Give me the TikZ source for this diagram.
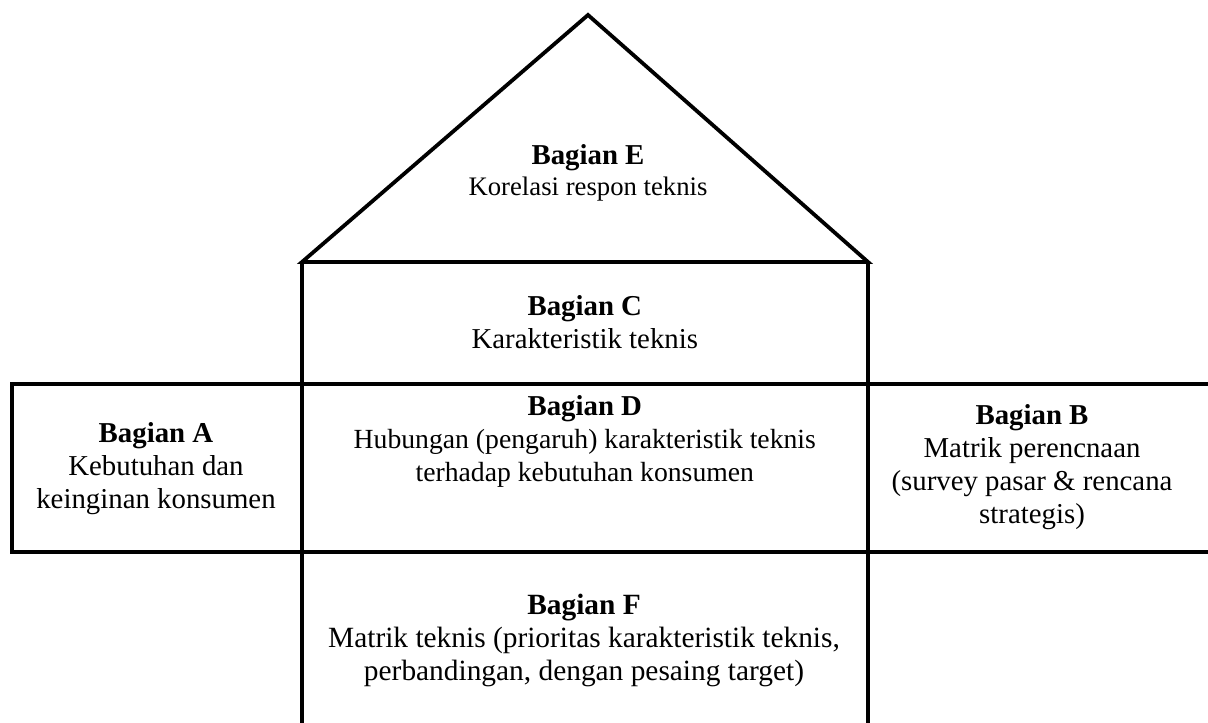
\documentclass[tikz,border=0pt]{standalone}
\usepackage{fontspec}
\setmainfont{Liberation Serif}
\usetikzlibrary{positioning}

\tikzset{
    wall/.style={line width=2.7pt},
    part/.style={align=center, font=\fontsize{20.5}{23.5}\selectfont},
}

\begin{document}
\begin{tikzpicture}
    \useasboundingbox (0,0) rectangle (30.2,18.075);

    % Roof and walls of the house
    \coordinate (apex) at (14.7,17.7);
    \coordinate (roofL) at (7.55,11.525);
    \coordinate (roofR) at (21.7,11.525);
    \coordinate (footL) at (7.55,-0.3);
    \coordinate (footR) at (21.7,-0.3);
    \draw[wall] (roofL) -- (apex) -- (roofR) -- cycle;
    \draw[wall] (roofL) -- (footL);
    \draw[wall] (roofR) -- (footR);

    % Side rooms
    \draw[wall] (0.3,4.275) rectangle (7.55,8.475);
    \draw[wall] (7.55,8.475) -- (30.5,8.475);
    \draw[wall] (7.55,4.275) -- (30.5,4.275);

    % Labels
    \node[part, font=\fontsize{19}{22.5}\selectfont] (partE) at (14.7,13.75) {\textbf{\fontsize{20.5}{23.5}\selectfont Bagian E}\\Korelasi respon teknis};
    \node[part] (partC) at (14.62,10.03) {\textbf{Bagian C}\\Karakteristik teknis};
    \node[part, font=\fontsize{19.7}{23.5}\selectfont] (partD) at (14.62,7.05) {\textbf{\fontsize{20.5}{23.5}\selectfont Bagian D}\\Hubungan (pengaruh) karakteristik teknis\\terhadap kebutuhan konsumen};
    \node[part] (partA) at (3.9,6.35) {\textbf{Bagian A}\\Kebutuhan dan\\keinginan konsumen};
    \node[part] (partB) at (25.8,6.4) {\textbf{Bagian B}\\Matrik perencnaan\\(survey pasar \& rencana\\strategis)};
    \node[part, font=\fontsize{20.9}{23.5}\selectfont] (partF) at (14.6,2.07) {\textbf{Bagian F}\\Matrik teknis (prioritas karakteristik teknis,\\perbandingan, dengan pesaing target)};
\end{tikzpicture}
\end{document}
